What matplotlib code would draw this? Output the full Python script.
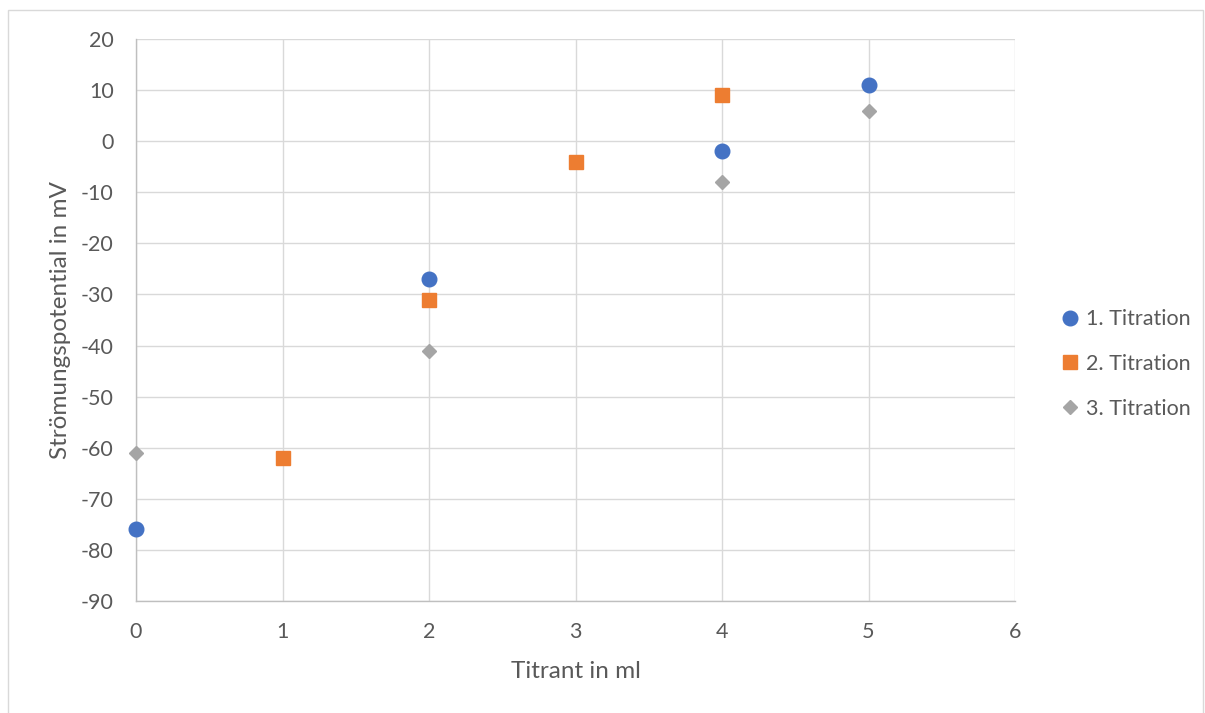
import matplotlib.pyplot as plt
from matplotlib.patches import Rectangle

plt.rcParams['font.family'] = ['Lato', 'DejaVu Sans']
plt.rcParams['axes.unicode_minus'] = False

# data
x1 = [0, 2, 4, 5]
y1 = [-76, -27, -2, 11]
x2 = [1, 2, 3, 4]
y2 = [-62, -31, -4, 9]
x3 = [0, 2, 4, 5]
y3 = [-61, -41, -8, 6]
labels = ['1. Titration', '2. Titration', '3. Titration']

txt = '#595959'
fig = plt.figure(figsize=(12.05, 7.13), dpi=100)
ax = fig.add_axes([136 / 1205, 1 - 601 / 713, 879 / 1205, 562 / 713])

# outer chart frame
fig.patches.append(Rectangle((8 / 1205, -0.1), 1195 / 1205, 1.1 - 10 / 713,
                             transform=fig.transFigure, fill=False,
                             edgecolor='#d9d9d9', linewidth=1.0))

ax.plot(x1, y1, 'o', color='#4472c4', markersize=10.5, label=labels[0], zorder=3, clip_on=False)
ax.plot(x2, y2, 's', color='#ed7d31', markersize=10, label=labels[1], zorder=3, clip_on=False)
ax.plot(x3, y3, 'D', color='#a5a5a5', markersize=7.5, label=labels[2], zorder=3, clip_on=False)

ax.set_xlim(0, 6)
ax.set_ylim(-90, 20)
ax.set_xticks(range(0, 7))
ax.set_yticks(range(-90, 30, 10))
ax.grid(True, color='#d9d9d9', linewidth=1.0)
ax.set_axisbelow(True)
for s in ['top', 'right']:
    ax.spines[s].set_visible(False)
for s in ['left', 'bottom']:
    ax.spines[s].set_color('#bfbfbf')
    ax.spines[s].set_linewidth(1.0)
ax.tick_params(length=0, labelsize=15.5, labelcolor=txt)
ax.tick_params(axis='y', pad=16)
ax.tick_params(axis='x', pad=15)

ax.set_xlabel('Titrant in ml', fontsize=17.5, color=txt)
ax.set_ylabel('Strömungspotential in mV', fontsize=17.5, color=txt)
ax.xaxis.set_label_coords(0.5, -0.106)
ax.yaxis.set_label_coords(-0.074, 0.5)

fig.legend(loc='center left', bbox_to_anchor=(1060 / 1205, 1 - 364 / 713),
           frameon=False, fontsize=15.5, labelcolor=txt, handlelength=0.9,
           handletextpad=0.3, borderpad=0, borderaxespad=0, labelspacing=1.15,
           numpoints=1)

fig.savefig('out.png', dpi=100)
